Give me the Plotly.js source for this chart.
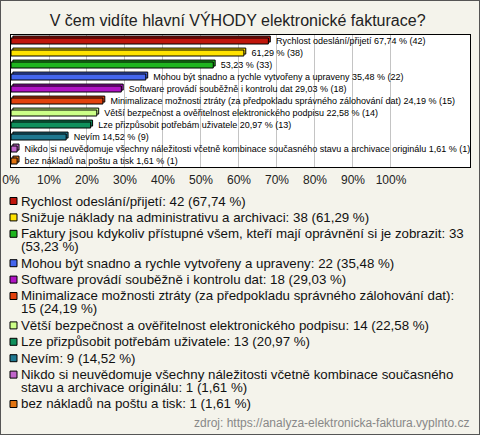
<!DOCTYPE html>
<html>
<head>
<meta charset="utf-8">
<script src="https://cdn.plot.ly/plotly-3.0.1.min.js"></script>
<style>
  html, body { margin: 0; padding: 0; background: #f4f3eb; }
  #wrap { position: relative; width: 480px; height: 435px; }
  #chart { width: 480px; height: 435px; }
  #frame { position: absolute; left: 0; top: 0; width: 480px; height: 435px; box-sizing: border-box; border: 1px solid #555; pointer-events: none; }
</style>
</head>
<body>
<div id="wrap"><div id="chart"></div><div id="frame"></div></div>
<script>
// ---- data ----
const categories = [
  "Rychlost odeslání/přijetí",
  "Snižuje náklady na administrativu a archivaci",
  "Faktury jsou kdykoliv přístupné všem, kteří mají oprávnění si je zobrazit",
  "Mohou být snadno a rychle vytvořeny a upraveny",
  "Software provádí souběžně i kontrolu dat",
  "Minimalizace možnosti ztráty (za předpokladu správného zálohování dat)",
  "Větší bezpečnost a ověřitelnost elektronického podpisu",
  "Lze přizpůsobit potřebám uživatele",
  "Nevím",
  "Nikdo si neuvědomuje všechny náležitosti včetně kombinace současného stavu a archivace originálu",
  "bez nákladů na poštu a tisk"
];
const counts = [42, 38, 33, 22, 18, 15, 14, 13, 9, 1, 1];
const percents = [67.74, 61.29, 53.23, 35.48, 29.03, 24.19, 22.58, 20.97, 14.52, 1.61, 1.61];
// text shown before the value next to each bar (empty = value only)
const barPrefixes = [
  "Rychlost odeslání/přijetí",
  "",
  "",
  "Mohou být snadno a rychle vytvořeny a upraveny",
  "Software provádí souběžně i kontrolu dat",
  "Minimalizace možnosti ztráty (za předpokladu správného zálohování dat)",
  "Větší bezpečnost a ověřitelnost elektronického podpisu",
  "Lze přizpůsobit potřebám uživatele",
  "Nevím",
  "Nikdo si neuvědomuje všechny náležitosti včetně kombinace současného stavu a archivace originálu",
  "bez nákladů na poštu a tisk"
];
const colors = ["#c0160c", "#ffe200", "#1fb51f", "#4466ee", "#b014c4", "#e2420e",
                "#ccff88", "#10905c", "#1f7890", "#c266cc", "#e27410"];
const tickValues = [0, 10, 20, 30, 40, 50, 60, 70, 80, 90, 100];
const tickLabels = ["0%", "10%", "20%", "30%", "40%", "50%", "60%", "70%", "80%", "90%", "100%"];
const titleText = "V čem vidíte hlavní VÝHODY elektronické fakturace?";
const sourceText = "zdroj: https://analyza-elektronicka-faktura.vyplnto.cz";

// ---- helpers ----
const fmtPct = p => p.toFixed(2).replace(".", ",") + " %";
const NB = "\u00a0\u00a0\u00a0";

// geometry of the plot area (pixels)
const W = 480, H = 435;
const M = {l: 11, r: 10, t: 35, b: 268};
const PW = W - M.l - M.r, PH = H - M.t - M.b;
const px2x = px => (px - M.l) / PW;
const py2y = py => (H - M.b - py) / PH;

const BW = 0.5;          // bar thickness (category units)
const DEPTH_X = 0.5;     // 3D depth shift to the right (axis units)
const DEPTH_Y = 0.16;    // 3D depth shift upwards (category units)

// back face (3D depth) drawn first
const depthTraces = categories.map((c, i) => ({
  type: "bar",
  orientation: "h",
  x: [percents[i]],
  y: [c],
  base: DEPTH_X,
  width: BW,
  offset: -BW / 2 - DEPTH_Y,
  marker: {color: colors[i], line: {color: "#000", width: 1}},
  showlegend: false,
  hoverinfo: "none"
}));

const traces = categories.map((c, i) => ({
  type: "bar",
  orientation: "h",
  x: [percents[i]],
  y: [c],
  width: BW,
  text: [NB + (barPrefixes[i] ? barPrefixes[i] + " " : "") + fmtPct(percents[i]) + " (" + counts[i] + ")"],
  textposition: "outside",
  constraintext: "none",
  cliponaxis: true,
  textfont: {family: "Liberation Sans, Arial, sans-serif", size: 9, color: "#000"},
  marker: {color: colors[i], line: {color: "#000", width: 1}},
  showlegend: false,
  hoverinfo: "none"
}));

// ---- custom legend (wrapped lines) ----
const LFS = 13.3;
const cv = document.createElement("canvas").getContext("2d");
cv.font = LFS + "px 'Liberation Sans'";
function wrap(str, maxW) {
  const words = str.split(" ");
  const lines = [];
  let cur = "";
  words.forEach(w => {
    const t = cur ? cur + " " + w : w;
    if (cur && cv.measureText(t).width > maxW) { lines.push(cur); cur = w; }
    else cur = t;
  });
  if (cur) lines.push(cur);
  return lines;
}
const annotations = [];
const shapes = [];
let y = 201;
categories.forEach((c, i) => {
  const label = c + ": " + counts[i] + " (" + fmtPct(percents[i]) + ")";
  const lines = wrap(label, 447);
  shapes.push({type: "rect", xref: "paper", yref: "paper",
    x0: px2x(10), x1: px2x(17), y0: py2y(y + 3.5), y1: py2y(y - 3.5),
    fillcolor: colors[i], line: {color: "#000", width: 1}});
  lines.forEach((ln, k) => {
    annotations.push({xref: "paper", yref: "paper", x: px2x(19), y: py2y(y),
      xanchor: "left", yanchor: "middle", showarrow: false, text: ln,
      font: {family: "Liberation Sans, Arial, sans-serif", size: LFS, color: "#111"}});
    if (k < lines.length - 1) y += 13;
  });
  y += 16.4;
});
annotations.push({xref: "paper", yref: "paper", x: px2x(471), y: py2y(423),
  xanchor: "right", yanchor: "middle", showarrow: false, text: sourceText,
  font: {family: "Liberation Sans, Arial, sans-serif", size: 12, color: "#888"}});

const layout = {
  width: W, height: H,
  margin: {l: M.l, r: M.r, t: M.t, b: M.b, pad: 0},
  paper_bgcolor: "#f4f3eb",
  plot_bgcolor: "#ffffff",
  barmode: "overlay",
  title: {text: titleText, x: 0.495, xref: "container", xanchor: "center",
          y: 1 - 20 / H, yref: "container", yanchor: "middle",
          font: {family: "Liberation Sans, Arial, sans-serif", size: 16, color: "#222"}},
  xaxis: {range: [0, 120.8], tickvals: tickValues, ticktext: tickLabels,
          showgrid: true, gridcolor: "#c4c4c4", gridwidth: 1, zeroline: false,
          showline: true, mirror: true, linecolor: "#000", linewidth: 1,
          ticks: "", ticklabelstandoff: 2, fixedrange: true,
          tickfont: {family: "Liberation Sans, Arial, sans-serif", size: 12, color: "#222"}},
  yaxis: {type: "category", categoryarray: categories, autorange: "reversed",
          showticklabels: false, showgrid: false, zeroline: false,
          showline: true, mirror: true, linecolor: "#000", linewidth: 1, ticks: "", fixedrange: true},
  annotations: annotations,
  shapes: shapes,
  font: {family: "Liberation Sans, Arial, sans-serif"}
};

Plotly.newPlot("chart", depthTraces.concat(traces), layout, {displayModeBar: false, staticPlot: true});
</script>
</body>
</html>
